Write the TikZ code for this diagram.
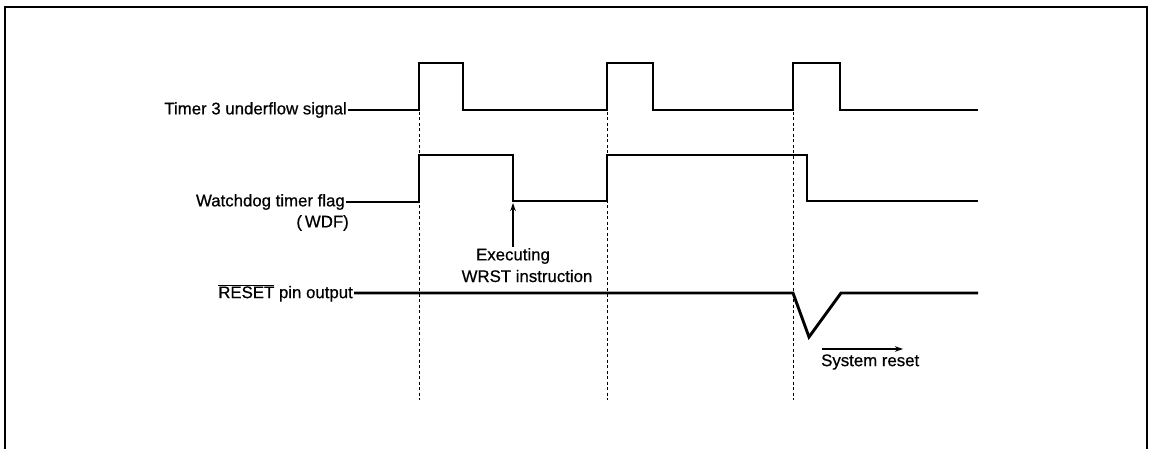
\documentclass[tikz,border=0pt]{standalone}
\usepackage{fontspec}
\setmainfont[FakeBold=0.6]{Liberation Sans}
\usetikzlibrary{arrows.meta}
\begin{document}
\begin{tikzpicture}[x=1pt,y=-1pt,
  sig/.style={line width=2.9pt, line join=miter},
  lbl/.style={font=\fontsize{16.8}{18}\selectfont, inner sep=1pt, anchor=east},
  txt/.style={font=\fontsize{16.8}{18}\selectfont, inner sep=1pt},
  guide/.style={line width=0.8pt, dash pattern=on 3pt off 2.5pt},
  frame/.style={line width=2.2pt},
  pointer/.style={line width=1.6pt, -{Stealth[length=8pt,width=5.5pt]}}]
\useasboundingbox (0,0) rectangle (1149,449);
% frame (open at the bottom)
\draw[frame] (5,449) -- (5,7) -- (1147,7) -- (1147,449);
% labels
\node[lbl] (t3) at (348,110) {Timer 3 underflow signal};
\node[lbl] (wdf) at (346,202) {Watchdog timer flag};
\node[lbl] (wdfab) at (350,223) {(\hspace{3pt}WDF)};
\node[lbl] (rst) at (354,293) {$\overline{\hbox{RESET}}$ pin output};
% signals
\draw[sig] (t3.east) -- (419,110) -- (419,63) -- (463,63) -- (463,110)
  -- (607,110) -- (607,63) -- (653,63) -- (653,110)
  -- (793,110) -- (793,63) -- (840,63) -- (840,110) -- (978,110);
\draw[sig] (wdf.east) -- (419,202) -- (419,155) -- (513,155) -- (513,201)
  -- (607,201) -- (607,155) -- (807,155) -- (807,201) -- (978,201);
\draw[sig] (rst.east) -- (793,293) -- (809,337) -- (841,293) -- (978,293);
% timing guides
\coordinate (g1t) at (419,112); \coordinate (g1b) at (419,400);
\coordinate (g2t) at (607,112); \coordinate (g2b) at (607,400);
\coordinate (g3t) at (793,112); \coordinate (g3b) at (793,400);
\draw[guide] (g1t) -- (g1b);
\draw[guide] (g2t) -- (g2b);
\draw[guide] (g3t) -- (g3b);
% WRST annotation
\node[txt] (exe) at (513,256) {Executing};
\node[txt] (wrst) at (527,276) {WRST instruction};
\coordinate (fall) at (513,203);
\draw[pointer] (exe.north) -- (fall);
% system reset annotation
\node[txt, anchor=west] (sr) at (820,362) {System reset};
\coordinate (srs) at (822,349); \coordinate (sre) at (903,349);
\draw[pointer] (srs) -- (sre);
\end{tikzpicture}
\end{document}
